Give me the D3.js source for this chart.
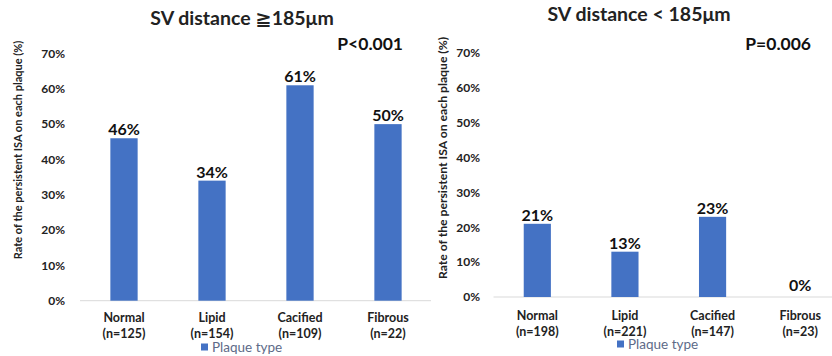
<!DOCTYPE html>
<html>
<head>
<meta charset="utf-8">
<script src="https://cdn.jsdelivr.net/npm/d3@7"></script>
<style>
  html, body { margin: 0; padding: 0; background: #fff; }
  svg { display: block; font-family: Lato, "Open Sans", "DejaVu Sans", sans-serif; }
</style>
</head>
<body>
<svg id="chart" width="832" height="356"></svg>
<script>
// Plaque categories and group sizes
const categories = ["Normal", "Lipid", "Cacified", "Fibrous"];
const countsLarge = [125, 154, 109, 22];
const countsSmall = [198, 221, 147, 23];

// Rate of persistent ISA (%) per plaque type
const ratesLarge = [46, 34, 61, 50];
const ratesSmall = [21, 13, 23, 0];

// Axis ticks and labels
const yTicks = [0, 10, 20, 30, 40, 50, 60, 70];
const titles = ["SV distance \u2267185\u03bcm", "SV distance < 185\u03bcm"];
const pValues = ["P<0.001", "P=0.006"];
const yAxisTitle = "Rate of the persistent ISA on each plaque (%)";
const legendLabel = "Plaque type";

const barColor = "#4472C4";
const svg = d3.select("#chart");

// Layout of each panel
const panels = [
  {
    counts: countsLarge, rates: ratesLarge, title: titles[0], p: pValues[0],
    xRange: [80, 432], axisEnd: 431, yRange: [300.7, 53.5],
    tickX: 65, yTitleX: 18, yTitleY: 150, yTitleSize: 11,
    titleX: 242, titleY: 25, pX: 403, pY: 50,
    catY: 322, legendX: 201, legendY: 347
  },
  {
    counts: countsSmall, rates: ratesSmall, title: titles[1], p: pValues[1],
    xRange: [493.5, 844], axisEnd: 832, yRange: [297, 53],
    tickX: 480, yTitleX: 443, yTitleY: 158, yTitleSize: 12.2,
    titleX: 639, titleY: 21, pX: 811, pY: 50,
    catY: 320, legendX: 617, legendY: 344
  }
];

panels.forEach(cfg => {
  const g = svg.append("g");

  const x = d3.scaleBand()
    .domain(categories)
    .range(cfg.xRange)
    .paddingInner(0.69)
    .paddingOuter(0.345);

  const y = d3.scaleLinear()
    .domain([0, 70])
    .range(cfg.yRange);

  // Y axis: labels only
  const yAxis = d3.axisLeft(y)
    .tickValues(yTicks)
    .tickSize(0)
    .tickPadding(0)
    .tickFormat(d => d + "%");
  const ya = g.append("g")
    .attr("transform", `translate(${cfg.tickX},0)`)
    .call(yAxis);
  ya.select(".domain").remove();
  ya.selectAll("text")
    .attr("font-family", "Lato, sans-serif")
    .attr("font-weight", "bold")
    .attr("font-size", 12)
    .attr("fill", "#222");

  // Baseline
  g.append("line")
    .attr("x1", cfg.xRange[0]).attr("x2", cfg.axisEnd)
    .attr("y1", y(0)).attr("y2", y(0))
    .attr("stroke", "#d9d9d9").attr("stroke-width", 1);

  // Bars
  g.selectAll("rect.bar")
    .data(categories)
    .join("rect")
    .attr("class", "bar")
    .attr("x", d => x(d))
    .attr("width", x.bandwidth())
    .attr("y", (d, i) => y(cfg.rates[i]))
    .attr("height", (d, i) => y(0) - y(cfg.rates[i]))
    .attr("fill", barColor);

  // Value labels
  g.selectAll("text.val")
    .data(categories)
    .join("text")
    .attr("class", "val")
    .attr("x", d => x(d) + x.bandwidth() / 2)
    .attr("y", (d, i) => y(cfg.rates[i]) - (cfg.rates[i] === 0 ? 6 : 3))
    .attr("text-anchor", "middle")
    .attr("font-weight", "bold")
    .attr("font-size", 16)
    .attr("fill", "#111")
    .text((d, i) => cfg.rates[i] + "%");

  // Category labels (two lines)
  const cat = g.selectAll("text.cat")
    .data(categories)
    .join("text")
    .attr("class", "cat")
    .attr("text-anchor", "middle")
    .attr("font-weight", "bold")
    .attr("font-size", 12.5)
    .attr("fill", "#222");
  cat.append("tspan")
    .attr("x", d => x(d) + x.bandwidth() / 2)
    .attr("y", cfg.catY)
    .text(d => d);
  cat.append("tspan")
    .attr("x", d => x(d) + x.bandwidth() / 2)
    .attr("y", cfg.catY + 15.5)
    .text((d, i) => `(n=${cfg.counts[i]})`);

  // Legend
  g.append("rect")
    .attr("x", cfg.legendX).attr("y", cfg.legendY - 3.5)
    .attr("width", 7).attr("height", 7)
    .attr("fill", barColor);
  g.append("text")
    .attr("x", cfg.legendX + 11).attr("y", cfg.legendY + 4.5)
    .attr("font-size", 13.5)
    .attr("fill", "#5d6a88")
    .text(legendLabel);

  // Y axis title
  g.append("text")
    .attr("transform", `translate(${cfg.yTitleX},${cfg.yTitleY}) rotate(-90)`)
    .attr("text-anchor", "middle")
    .attr("dy", "0.35em")
    .attr("font-weight", "bold")
    .attr("font-size", cfg.yTitleSize)
    .attr("fill", "#222")
    .text(yAxisTitle);

  // Panel title
  g.append("text")
    .attr("x", cfg.titleX).attr("y", cfg.titleY)
    .attr("text-anchor", "middle")
    .attr("font-weight", "bold")
    .attr("font-size", 19.5)
    .attr("fill", "#222")
    .text(cfg.title);

  // P value
  g.append("text")
    .attr("x", cfg.pX).attr("y", cfg.pY)
    .attr("text-anchor", "end")
    .attr("font-weight", "bold")
    .attr("font-size", 17.5)
    .attr("fill", "#111")
    .text(cfg.p);
});
</script>
</body>
</html>
